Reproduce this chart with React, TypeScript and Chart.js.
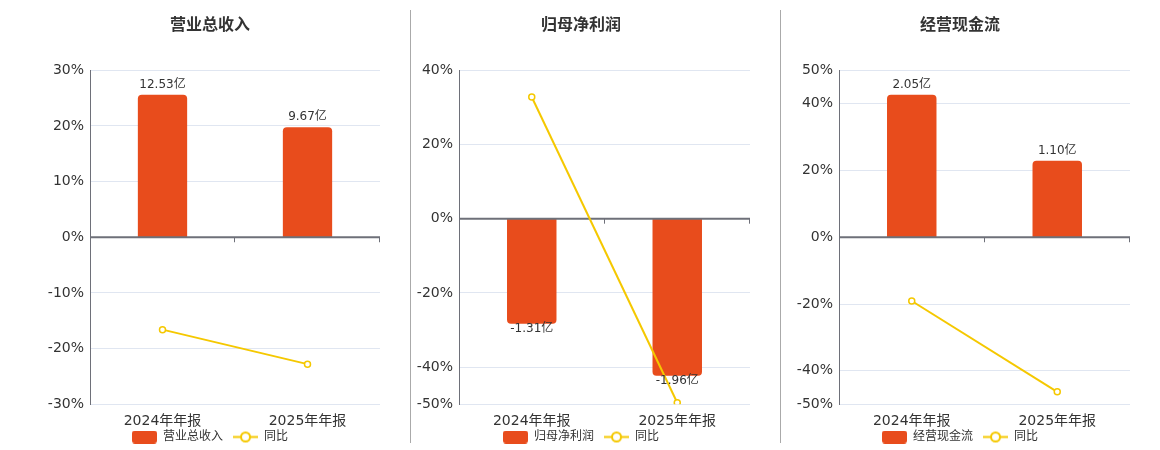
import React, { useEffect, useRef } from "react";
import { Chart, registerables } from "chart.js";

Chart.register(...registerables);

const FONT = "'DejaVu Sans', 'Noto Sans CJK SC', sans-serif";
Chart.defaults.font.family = FONT;

// ---------- data ----------
const categories = ["2024年年报", "2025年年报"];
const yoyLabel = "同比";
const unit = "亿";

const revenueTitle = "营业总收入";
const revenueValues = [12.53, 9.67];
const revenueYoY = [-16.6, -22.8];
const revenueTicks = [-30, -20, -10, 0, 10, 20, 30];

const profitTitle = "归母净利润";
const profitValues = [-1.31, -1.96];
const profitYoY = [32.8, -49.6];
const profitTicks = [-50, -40, -20, 0, 20, 40];

const cashTitle = "经营现金流";
const cashValues = [2.05, 1.1];
const cashYoY = [-19.1, -46.3];
const cashTicks = [-50, -40, -20, 0, 20, 40, 50];

// bar value per 1% of the left axis (hidden bar axis scale)
const revenueBarScale = 0.489;
const profitBarScale = 0.0463;
const cashBarScale = 0.048;

// ---------- styles ----------
const BAR_COLOR = "#E84C1C";
const LINE_COLOR = "#F5C800";
const AXIS_COLOR = "#6E7079";
const GRID_COLOR = "#E0E6F1";
const TEXT_COLOR = "#333333";
const CANVAS_H = 471;
const LEGEND_TOP = 421;

function makeBarLegendImage(): HTMLCanvasElement {
  const c = document.createElement("canvas");
  c.width = 25;
  c.height = 13;
  const g = c.getContext("2d")!;
  g.fillStyle = BAR_COLOR;
  g.beginPath();
  (g as any).roundRect(0, 0, 25, 13, 3);
  g.fill();
  return c;
}

function makeLineLegendImage(): HTMLCanvasElement {
  const c = document.createElement("canvas");
  c.width = 25;
  c.height = 13;
  const g = c.getContext("2d")!;
  g.strokeStyle = LINE_COLOR;
  g.lineWidth = 2;
  g.beginPath();
  g.moveTo(0, 6.5);
  g.lineTo(25, 6.5);
  g.stroke();
  g.beginPath();
  g.arc(12.5, 6.5, 4.5, 0, Math.PI * 2);
  g.fillStyle = "#ffffff";
  g.fill();
  g.stroke();
  return c;
}

interface PanelProps {
  title: string;
  values: number[];
  yoy: number[];
  ticks: number[];
  barScale: number;
  left: number;
  width: number;
  yWidth: number;
}

function Panel(props: PanelProps) {
  const ref = useRef<HTMLCanvasElement | null>(null);

  useEffect(() => {
    if (!ref.current) return;
    const { title, values, yoy, ticks, barScale, yWidth } = props;
    const tMin = Math.min(...ticks);
    const tMax = Math.max(...ticks);
    const barImg = makeBarLegendImage();
    const lineImg = makeLineLegendImage();

    const overlay = {
      id: "overlay",
      afterLayout(chart: any) {
        const lg = chart.legend;
        if (lg) {
          const d = LEGEND_TOP - lg.top;
          lg.top += d;
          lg.bottom += d;
        }
      },
      afterDatasetDraw(chart: any, args: any) {
        if (args.index !== 0) return;
        const { ctx, chartArea } = chart;
        const ys = chart.scales.y;
        const xs = chart.scales.x;
        const y0 = ys.getPixelForValue(0);
        ctx.save();
        ctx.strokeStyle = AXIS_COLOR;
        ctx.lineWidth = 2;
        ctx.beginPath();
        ctx.moveTo(chartArea.left, y0);
        ctx.lineTo(chartArea.right, y0);
        ctx.stroke();
        ctx.lineWidth = 1;
        const n = chart.data.labels.length;
        for (let i = 0; i < n; i++) {
          const xx =
            i < n - 1
              ? (xs.getPixelForValue(i) + xs.getPixelForValue(i + 1)) / 2
              : chartArea.right;
          const px = Math.round(xx) - 0.5;
          ctx.beginPath();
          ctx.moveTo(px, y0);
          ctx.lineTo(px, y0 + 5);
          ctx.stroke();
        }
        ctx.restore();
      },
      afterDatasetsDraw(chart: any) {
        const { ctx } = chart;
        const meta = chart.getDatasetMeta(0);
        const vals = chart.data.datasets[0].data as number[];
        ctx.save();
        ctx.font = `12px ${FONT}`;
        ctx.fillStyle = TEXT_COLOR;
        ctx.textAlign = "center";
        ctx.textBaseline = "middle";
        meta.data.forEach((el: any, i: number) => {
          const v = vals[i];
          const yy = v >= 0 ? el.y - 10 : el.y + 5;
          ctx.fillText(v.toFixed(2) + unit, el.x, yy);
        });
        ctx.restore();
      },
    };

    const chart = new Chart(ref.current, {
      type: "bar",
      data: {
        labels: categories,
        datasets: [
          {
            type: "bar",
            label: title,
            data: values,
            yAxisID: "yb",
            backgroundColor: BAR_COLOR,
            borderRadius: 4,
            borderSkipped: "start",
            barPercentage: 0.34,
            categoryPercentage: 1,
            order: 1,
          } as any,
          {
            type: "line",
            label: yoyLabel,
            data: yoy,
            yAxisID: "y",
            borderColor: LINE_COLOR,
            borderWidth: 2,
            pointRadius: 3,
            pointBorderWidth: 1.5,
            pointBackgroundColor: "#ffffff",
            pointBorderColor: LINE_COLOR,
            tension: 0,
            order: 0,
          } as any,
        ],
      },
      options: {
        animation: false,
        responsive: true,
        maintainAspectRatio: false,
        layout: { padding: 0, autoPadding: false },
        scales: {
          x: {
            type: "category",
            grid: { display: false, drawTicks: false },
            border: { display: false },
            ticks: { padding: 9, color: TEXT_COLOR, font: { size: 14 } },
          },
          y: {
            position: "left",
            min: tMin,
            max: tMax,
            border: { display: true, color: AXIS_COLOR, width: 1 },
            grid: { color: GRID_COLOR, drawTicks: false },
            ticks: {
              padding: 6,
              color: TEXT_COLOR,
              font: { size: 14 },
              callback: (v: any) => `${v}%`,
            },
            afterBuildTicks: (s: any) => {
              s.ticks = ticks.map((v) => ({ value: v }));
            },
            afterFit: (s: any) => {
              s.width = yWidth;
            },
          },
          yb: {
            display: false,
            min: tMin * barScale,
            max: tMax * barScale,
          },
        } as any,
        plugins: {
          title: {
            display: true,
            text: title,
            color: TEXT_COLOR,
            font: { size: 16, weight: "bold" },
            padding: { top: 16.4, bottom: 34.7 },
          },
          legend: {
            display: true,
            position: "bottom",
            labels: {
              usePointStyle: true,
              pointStyleWidth: 25,
              boxHeight: 12,
              padding: 10,
              color: TEXT_COLOR,
              font: { size: 12 },
              generateLabels: () => [
                {
                  text: title,
                  pointStyle: barImg,
                  fillStyle: BAR_COLOR,
                  strokeStyle: BAR_COLOR,
                  lineWidth: 0,
                  hidden: false,
                  datasetIndex: 0,
                  fontColor: TEXT_COLOR,
                } as any,
                {
                  text: yoyLabel,
                  pointStyle: lineImg,
                  fillStyle: "#ffffff",
                  strokeStyle: LINE_COLOR,
                  lineWidth: 0,
                  hidden: false,
                  datasetIndex: 1,
                  fontColor: TEXT_COLOR,
                } as any,
              ],
            },
          },
          tooltip: { enabled: false },
        },
      },
      plugins: [overlay as any],
    });

    return () => chart.destroy();
  }, []);

  return (
    <div
      style={{
        position: "absolute",
        left: props.left,
        top: 0,
        width: props.width,
        height: CANVAS_H,
      }}
    >
      <canvas ref={ref} />
    </div>
  );
}

export default function App() {
  return (
    <div
      style={{
        position: "absolute",
        left: 0,
        top: 0,
        width: 1160,
        height: 450,
        overflow: "hidden",
        background: "#ffffff",
      }}
    >
      <Panel
        title={revenueTitle}
        values={revenueValues}
        yoy={revenueYoY}
        ticks={revenueTicks}
        barScale={revenueBarScale}
        left={40}
        width={340}
        yWidth={50}
      />
      <Panel
        title={profitTitle}
        values={profitValues}
        yoy={profitYoY}
        ticks={profitTicks}
        barScale={profitBarScale}
        left={412}
        width={338}
        yWidth={47}
      />
      <Panel
        title={cashTitle}
        values={cashValues}
        yoy={cashYoY}
        ticks={cashTicks}
        barScale={cashBarScale}
        left={790}
        width={340}
        yWidth={49}
      />
      <div style={{ position: "absolute", left: 410, top: 10, width: 1, height: 433, background: "#AAAAAA" }} />
      <div style={{ position: "absolute", left: 780, top: 10, width: 1, height: 433, background: "#AAAAAA" }} />
    </div>
  );
}
